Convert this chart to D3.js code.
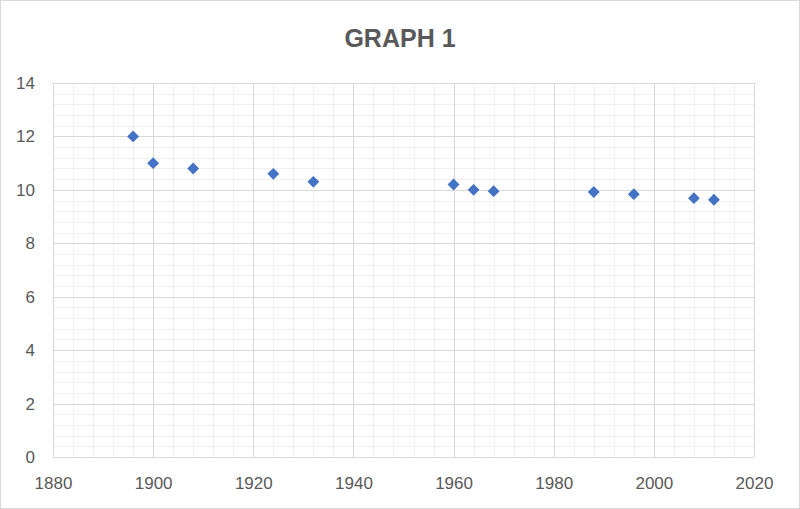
<!DOCTYPE html>
<html>
<head>
<meta charset="utf-8">
<script src="https://cdn.jsdelivr.net/npm/d3@7"></script>
<style>
  body { margin: 0; background: #fff; }
  svg { display: block; }
  .tick text { font-family: "Liberation Sans", Arial, sans-serif; font-size: 17px; fill: #595959; }
</style>
</head>
<body>
<div id="chart"></div>
<script>
// donnees
var years = [1896, 1900, 1908, 1924, 1932, 1960, 1964, 1968, 1988, 1996, 2008, 2012];
var times = [12.0, 11.0, 10.8, 10.6, 10.3, 10.2, 10.0, 9.95, 9.92, 9.84, 9.69, 9.63];
var xTicks = [1880, 1900, 1920, 1940, 1960, 1980, 2000, 2020];
var yTicks = [0, 2, 4, 6, 8, 10, 12, 14];
var title = "GRAPH 1";

var width = 800, height = 509,
  margin = {top: 83, right: 46, bottom: 52, left: 53};

var svg = d3.select("#chart").append("svg")
  .attr("width", width)
  .attr("height", height);

// cadre exterieur
svg.append("rect")
  .attr("x", 0.5).attr("y", 0.5)
  .attr("width", width - 1).attr("height", height - 1)
  .attr("fill", "#fff")
  .attr("stroke", "#d9d9d9");

var x = d3.scaleLinear().domain([1880, 2020]).range([margin.left, width - margin.right]);
var y = d3.scaleLinear().domain([0, 14]).range([height - margin.bottom, margin.top]);

// grille secondaire (5 divisions entre graduations)
var xMinor = d3.range(1880, 2021, 4);
var yMinor = d3.range(0, 36).map(function(i) { return i * 0.4; });
var grid = svg.append("g");
grid.selectAll("line.xminor").data(xMinor).enter().append("line")
  .attr("x1", d => Math.round(x(d)) + 0.5).attr("x2", d => Math.round(x(d)) + 0.5)
  .attr("y1", y(0)).attr("y2", y(14))
  .attr("stroke", "#f0f0f0");
grid.selectAll("line.yminor").data(yMinor).enter().append("line")
  .attr("y1", d => Math.round(y(d)) + 0.5).attr("y2", d => Math.round(y(d)) + 0.5)
  .attr("x1", x(1880)).attr("x2", x(2020))
  .attr("stroke", "#f0f0f0");

// grille principale
grid.selectAll("line.xmajor").data(xTicks).enter().append("line")
  .attr("x1", d => Math.round(x(d)) + 0.5).attr("x2", d => Math.round(x(d)) + 0.5)
  .attr("y1", y(0)).attr("y2", y(14))
  .attr("stroke", "#d9d9d9");
grid.selectAll("line.ymajor").data(yTicks).enter().append("line")
  .attr("y1", d => Math.round(y(d)) + 0.5).attr("y2", d => Math.round(y(d)) + 0.5)
  .attr("x1", x(1880)).attr("x2", x(2020))
  .attr("stroke", "#d9d9d9");

// axes
var xAxis = svg.append("g")
  .attr("transform", "translate(0," + y(0) + ")")
  .call(d3.axisBottom(x).tickValues(xTicks).tickFormat(d3.format("d")).tickSize(0).tickPadding(20));
xAxis.select(".domain").remove();

var yAxis = svg.append("g")
  .attr("transform", "translate(" + x(1880) + ",0)")
  .call(d3.axisLeft(y).tickValues(yTicks).tickSize(0).tickPadding(18));
yAxis.select(".domain").remove();

// titre
svg.append("text")
  .attr("x", 400).attr("y", 47)
  .attr("text-anchor", "middle")
  .style("font-family", "'Liberation Sans', Arial, sans-serif")
  .style("font-weight", "bold")
  .style("font-size", "25px")
  .style("fill", "#595959")
  .text(title);

// points en losange
var pts = years.map((d, i) => ({year: d, time: times[i]}));
svg.append("g").selectAll("path").data(pts).enter().append("path")
  .attr("d", d3.symbol().type(d3.symbolSquare).size(70))
  .attr("transform", d => "translate(" + x(d.year) + "," + y(d.time) + ") rotate(45)")
  .attr("fill", "#4472c4");
</script>
</body>
</html>
